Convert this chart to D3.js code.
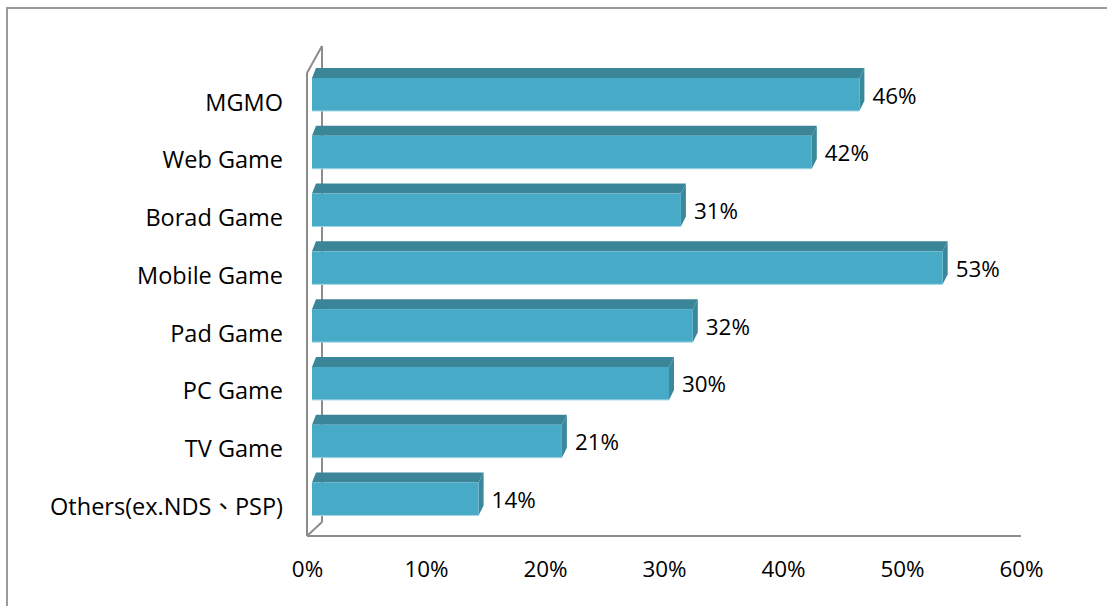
<!DOCTYPE html>
<html>
<head>
<meta charset="utf-8">
<script src="https://cdn.jsdelivr.net/npm/d3@7"></script>
<style>
  html, body { margin: 0; padding: 0; background: #ffffff; }
  svg { display: block; }
  text { font-family: "Open Sans", "Noto Sans", sans-serif; fill: #000; }
</style>
</head>
<body>
<div id="chart"></div>
<script>
const categories = ["MGMO", "Web Game", "Borad Game", "Mobile Game", "Pad Game", "PC Game", "TV Game", "Others(ex.NDS\u3001PSP)"];
const values = [0.46, 0.42, 0.31, 0.53, 0.32, 0.30, 0.21, 0.14];
const valueLabels = ["46%", "42%", "31%", "53%", "32%", "30%", "21%", "14%"];
const tickValues = [0, 0.1, 0.2, 0.3, 0.4, 0.5, 0.6];
const tickLabels = ["0%", "10%", "20%", "30%", "40%", "50%", "60%"];

const W = 1107, H = 606;
const svg = d3.select("#chart").append("svg").attr("width", W).attr("height", H);

// outer frame
svg.append("path")
  .attr("d", `M7,${H} L7,8 L${W},8`)
  .attr("fill", "none").attr("stroke", "#9a9a9a").attr("stroke-width", 2);

const x = d3.scaleLinear().domain([0, 0.6]).range([307, 1021]);
const y = d3.scalePoint().domain(categories).range([94.5, 499]);
const barH = 33;
const barShift = 5;      // bar front plane offset from axis front plane
const depthX = 4, depthY = -10;

// walls / axes lines
const axisColor = "#8c8c8c";
const g = svg.append("g");
g.append("path")
  .attr("d", `M307,73 L307,536 M322,46 L322,522 M322,46 L307,73 M322,522 L307,536`)
  .attr("fill", "none").attr("stroke", axisColor).attr("stroke-width", 2);
g.append("line").attr("x1", x(0)).attr("x2", x(0.6)).attr("y1", 536).attr("y2", 536)
  .attr("stroke", axisColor).attr("stroke-width", 2);

// x-axis tick labels
const xAxis = d3.axisBottom(x).tickValues(tickValues)
  .tickFormat((d, i) => tickLabels[i]).tickSize(0).tickPadding(0);
const ax = svg.append("g").attr("transform", "translate(0,561)").call(xAxis);
ax.select(".domain").remove();
ax.selectAll("text").attr("font-size", 22.4).attr("dy", "0.71em")
  .style("font-family", "'Open Sans', sans-serif").attr("fill", "#000");

// bars
const bars = svg.append("g").selectAll("g.bar").data(categories).enter().append("g");
bars.each(function(c, i) {
  const sel = d3.select(this);
  const x0 = x(0) + barShift, x1 = x(values[i]) + barShift;
  const yt = y(c) - barH / 2, yb = y(c) + barH / 2;
  sel.append("path")
    .attr("d", `M${x0},${yt} L${x0 + depthX},${yt + depthY} L${x1 + depthX + 1},${yt + depthY} L${x1},${yt} Z`)
    .attr("fill", "#3a8598");
  sel.append("path")
    .attr("d", `M${x1},${yt} L${x1 + depthX + 1},${yt + depthY} L${x1 + depthX + 1},${yb + depthY} L${x1},${yb} Z`)
    .attr("fill", "#3b889c");
  sel.append("rect")
    .attr("x", x0).attr("y", yt).attr("width", x1 - x0).attr("height", barH)
    .attr("fill", "#47aac7");
  sel.append("line").attr("x1", x0).attr("x2", x1).attr("y1", yb).attr("y2", yb)
    .attr("stroke", "#a6d7e4").attr("stroke-width", 1);
  sel.append("text")
    .attr("x", x1 + 13).attr("y", y(c) + 3)
    .attr("dominant-baseline", "middle")
    .attr("font-size", 22.4)
    .text(valueLabels[i]);
});

// category labels (the ideographic comma uses a Traditional Chinese font, centred punctuation)
const labels = svg.append("g").selectAll("text").data(categories).enter().append("text")
  .attr("x", 283).attr("y", d => y(d) + 10)
  .attr("text-anchor", "end").attr("dominant-baseline", "middle")
  .attr("font-size", 23.5);
labels.each(function(d) {
  const t = d3.select(this);
  const parts = d.split("\u3001");
  parts.forEach((p, k) => {
    if (k > 0) t.append("tspan").style("font-family", "'Noto Sans CJK TC'").text("\u3001");
    t.append("tspan").text(p);
  });
});
</script>
</body>
</html>
